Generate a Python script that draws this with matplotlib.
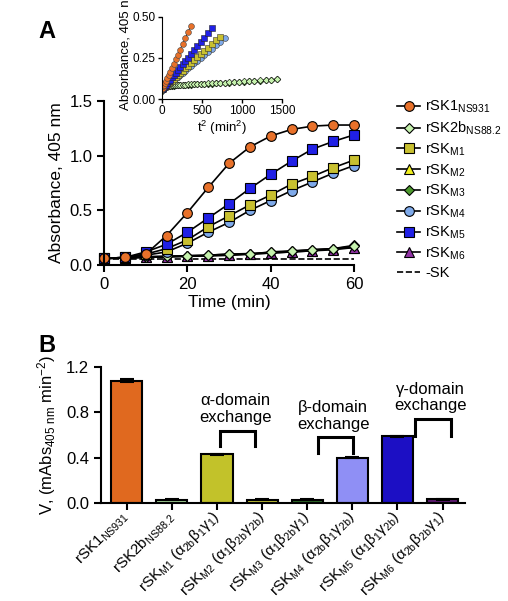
import matplotlib.pyplot as plt
from matplotlib.lines import Line2D

plt.rcParams['font.family'] = ['Liberation Sans', 'DejaVu Sans']
plt.rcParams['mathtext.default'] = 'regular'

# ---- panel A data (time course) ----
time = [0, 5, 10, 15, 20, 25, 30, 35, 40, 45, 50, 55, 60]
rsk1 = [0.06, 0.07, 0.10, 0.27, 0.48, 0.71, 0.93, 1.08, 1.18, 1.24, 1.27, 1.28, 1.28]
rsk2b = [0.06, 0.065, 0.075, 0.08, 0.085, 0.09, 0.10, 0.10, 0.12, 0.13, 0.14, 0.15, 0.17]
m1 = [0.06, 0.07, 0.10, 0.15, 0.23, 0.35, 0.45, 0.55, 0.64, 0.74, 0.81, 0.89, 0.96]
m2 = [0.06, 0.065, 0.07, 0.075, 0.08, 0.085, 0.09, 0.10, 0.11, 0.12, 0.13, 0.15, 0.16]
m3 = [0.06, 0.065, 0.075, 0.08, 0.085, 0.09, 0.10, 0.105, 0.115, 0.125, 0.14, 0.15, 0.18]
m4 = [0.06, 0.07, 0.09, 0.12, 0.20, 0.30, 0.39, 0.50, 0.59, 0.68, 0.76, 0.84, 0.91]
m5 = [0.06, 0.07, 0.12, 0.19, 0.30, 0.43, 0.56, 0.70, 0.83, 0.95, 1.06, 1.13, 1.19]
m6 = [0.06, 0.065, 0.07, 0.075, 0.08, 0.085, 0.09, 0.10, 0.11, 0.12, 0.13, 0.14, 0.16]
no_sk = [0.055, 0.055, 0.055, 0.055, 0.055, 0.055, 0.055, 0.055, 0.055, 0.055, 0.055, 0.055, 0.055]

# ---- inset data (absorbance vs t^2) ----
t2_rsk1 = [0, 1, 4, 9, 16, 25, 36, 49, 64, 81, 100, 121, 144, 169, 196, 225, 256, 289, 324, 361]
a_rsk1 = [0.060, 0.061, 0.064, 0.070, 0.077, 0.087, 0.099, 0.112, 0.128, 0.147, 0.167, 0.189,
          0.214, 0.241, 0.270, 0.301, 0.334, 0.369, 0.407, 0.446]
t2_m5 = [0, 1, 4, 9, 16, 25, 36, 49, 64, 81, 100, 121, 144, 169, 196, 225, 256, 289, 324, 361,
         400, 441, 484, 529, 576, 625]
a_m5 = [0.060, 0.061, 0.062, 0.065, 0.069, 0.075, 0.081, 0.089, 0.098, 0.108, 0.119, 0.132,
        0.145, 0.160, 0.176, 0.193, 0.212, 0.231, 0.252, 0.274, 0.297, 0.321, 0.347, 0.373,
        0.401, 0.430]
t2_m1 = [0, 1, 4, 9, 16, 25, 36, 49, 64, 81, 100, 121, 144, 169, 196, 225, 256, 289, 324, 361,
         400, 441, 484, 529, 576, 625, 676, 729]
a_m1 = [0.060, 0.060, 0.062, 0.064, 0.067, 0.071, 0.076, 0.082, 0.088, 0.096, 0.104, 0.113,
        0.123, 0.134, 0.146, 0.159, 0.172, 0.187, 0.202, 0.218, 0.236, 0.254, 0.272, 0.292,
        0.313, 0.334, 0.357, 0.380]
t2_m4 = [0, 1, 4, 9, 16, 25, 36, 49, 64, 81, 100, 121, 144, 169, 196, 225, 256, 289, 324, 361,
         400, 441, 484, 529, 576, 625, 676, 729, 784]
a_m4 = [0.060, 0.060, 0.062, 0.064, 0.066, 0.070, 0.074, 0.079, 0.085, 0.092, 0.100, 0.108,
        0.117, 0.127, 0.137, 0.149, 0.161, 0.174, 0.188, 0.203, 0.218, 0.234, 0.251, 0.269,
        0.288, 0.307, 0.327, 0.348, 0.370]
t2_slow = [0, 1, 4, 9, 16, 25, 36, 49, 64, 81, 100, 121, 144, 169, 196, 225, 256, 289, 324, 361,
           400, 441, 484, 529, 576, 625, 676, 729, 784, 841, 900, 961, 1024, 1089, 1156, 1225,
           1296, 1369, 1444]
a_m3 = [0.050, 0.055, 0.060, 0.065, 0.068, 0.071, 0.073, 0.075, 0.077, 0.078, 0.080, 0.081,
        0.082, 0.083, 0.084, 0.085, 0.086, 0.087, 0.088, 0.089, 0.090, 0.091, 0.092, 0.093,
        0.094, 0.095, 0.097, 0.098, 0.099, 0.101, 0.102, 0.104, 0.106, 0.108, 0.110, 0.112,
        0.114, 0.117, 0.120]
a_rsk2b = [0.052, 0.057, 0.062, 0.067, 0.070, 0.073, 0.075, 0.077, 0.079, 0.080, 0.082, 0.083,
           0.084, 0.085, 0.086, 0.087, 0.088, 0.089, 0.090, 0.091, 0.092, 0.093, 0.094, 0.095,
           0.096, 0.097, 0.099, 0.100, 0.101, 0.103, 0.104, 0.106, 0.108, 0.110, 0.112, 0.114,
           0.116, 0.119, 0.122]

# ---- panel B data (rates) ----
bar_labels = [r'rSK1$_{NS931}$', r'rSK2b$_{NS88.2}$',
              r'rSK$_{M1}$ (α$_{2b}$β$_{1}$γ$_{1}$)', r'rSK$_{M2}$ (α$_{1}$β$_{2b}$γ$_{2b}$)',
              r'rSK$_{M3}$ (α$_{1}$β$_{2b}$γ$_{1}$)', r'rSK$_{M4}$ (α$_{2b}$β$_{1}$γ$_{2b}$)',
              r'rSK$_{M5}$ (α$_{1}$β$_{1}$γ$_{2b}$)', r'rSK$_{M6}$ (α$_{2b}$β$_{2b}$γ$_{1}$)']
rates = [1.08, 0.03, 0.43, 0.03, 0.03, 0.40, 0.59, 0.035]
rate_err = [0.012, 0.004, 0.005, 0.004, 0.004, 0.006, 0.005, 0.004]
bar_colors = ['#E0691F', '#A6D69A', '#C2C22A', '#C8C83A', '#2F6E2A', '#8F8FF5', '#1C0FC4', '#5E1A70']

c_rsk1, c_rsk2b, c_m1, c_m2 = '#E8712A', '#C6F2AE', '#C8C030', '#F2F020'
c_m3, c_m4, c_m5, c_m6 = '#4E9A2E', '#7FAAEA', '#2020E6', '#9232A6'

fig = plt.figure(figsize=(5.08, 6.01), dpi=100)

# ================= panel A =================
ax = fig.add_axes([0.205, 0.559, 0.492, 0.273])
series = [
    (m2, c_m2, '^'),
    (m6, c_m6, '^'),
    (m3, c_m3, 'D'),
    (rsk2b, c_rsk2b, 'D'),
    (m4, c_m4, 'o'),
    (m1, c_m1, 's'),
    (m5, c_m5, 's'),
    (rsk1, c_rsk1, 'o'),
]
ax.plot(time, no_sk, 'k--', lw=1.2, clip_on=False)
for vals, col, mk in series:
    ms = 5.5 if mk == 'D' else 7
    ax.plot(time, vals, color='black', lw=1.2, marker=mk, markersize=ms,
            markerfacecolor=col, markeredgecolor='black', markeredgewidth=0.8, clip_on=False)

ax.set_xlim(0, 60)
ax.set_ylim(0, 1.5)
ax.set_xticks([0, 20, 40, 60])
ax.set_yticks([0.0, 0.5, 1.0, 1.5])
ax.set_yticklabels(['0.0', '0.5', '1.0', '1.5'])
ax.spines['top'].set_visible(False)
ax.spines['right'].set_visible(False)
ax.spines['left'].set_linewidth(1.5)
ax.spines['bottom'].set_linewidth(1.5)
ax.tick_params(labelsize=12, width=1.5, length=5)
ax.set_xlabel('Time (min)', fontsize=12.5, labelpad=2)
ax.set_ylabel('Absorbance, 405 nm', fontsize=12.5, labelpad=4)

# legend
legend_items = [
    ('o', c_rsk1, r'rSK1$_{NS931}$'),
    ('D', c_rsk2b, r'rSK2b$_{NS88.2}$'),
    ('s', c_m1, r'rSK$_{M1}$'),
    ('^', c_m2, r'rSK$_{M2}$'),
    ('D', c_m3, r'rSK$_{M3}$'),
    ('o', c_m4, r'rSK$_{M4}$'),
    ('s', c_m5, r'rSK$_{M5}$'),
    ('^', c_m6, r'rSK$_{M6}$'),
]
handles = []
labels = []
for mk, col, lab in legend_items:
    ms = 5.5 if mk == 'D' else 7
    handles.append(Line2D([], [], color='black', lw=1.2, marker=mk, markersize=ms,
                          markerfacecolor=col, markeredgecolor='black', markeredgewidth=0.8))
    labels.append(lab)
handles.append(Line2D([], [], color='black', lw=1.2, ls='--'))
labels.append('-SK')
ax.legend(handles, labels, loc='upper left', bbox_to_anchor=(0.77, 0.845),
          bbox_transform=fig.transFigure, frameon=False, fontsize=10.5,
          handlelength=1.6, handletextpad=0.35, labelspacing=0.3, borderaxespad=0)

fig.text(0.075, 0.948, 'A', fontsize=17, fontweight='bold', ha='left', va='center')

# inset
ins = fig.add_axes([0.319, 0.835, 0.236, 0.137])
ins.plot(t2_slow, a_m3, color='black', lw=0.6, marker='D', markersize=3.4,
         markerfacecolor=c_m3, markeredgecolor='black', markeredgewidth=0.4)
ins.plot(t2_slow, a_rsk2b, color='black', lw=0.6, marker='D', markersize=3.4,
         markerfacecolor=c_rsk2b, markeredgecolor='black', markeredgewidth=0.4)
ins.plot(t2_m4, a_m4, color='black', lw=0.6, marker='o', markersize=4.2,
         markerfacecolor=c_m4, markeredgecolor='#333333', markeredgewidth=0.4)
ins.plot(t2_m1, a_m1, color='black', lw=0.6, marker='s', markersize=3.8,
         markerfacecolor=c_m1, markeredgecolor='#333333', markeredgewidth=0.4)
ins.plot(t2_m5, a_m5, color='black', lw=0.6, marker='s', markersize=3.8,
         markerfacecolor=c_m5, markeredgecolor='#222222', markeredgewidth=0.4)
ins.plot(t2_rsk1, a_rsk1, color='black', lw=0.6, marker='o', markersize=4.2,
         markerfacecolor=c_rsk1, markeredgecolor='#444444', markeredgewidth=0.4)
ins.set_xlim(0, 1500)
ins.set_ylim(0, 0.5)
ins.set_xticks([0, 500, 1000, 1500])
ins.set_yticks([0.0, 0.25, 0.5])
ins.set_yticklabels(['0.00', '0.25', '0.50'])
ins.spines['top'].set_visible(False)
ins.spines['right'].set_visible(False)
ins.tick_params(labelsize=8.5, width=1, length=3, pad=1.5)
ins.set_xlabel('t$^2$ (min$^2$)', fontsize=9.5, labelpad=1)
# inset y label: as in the figure, it runs up to the top edge
fig.text(125 / 508, 1 - 110 / 601, 'Absorbance, 405 nm', rotation=90, fontsize=9.5,
         ha='center', va='bottom')

# ================= panel B =================
bx = fig.add_axes([0.199, 0.163, 0.7165, 0.2263])
pos = list(range(len(rates)))
bx.bar(pos, rates, width=0.69, color=bar_colors, edgecolor='black', linewidth=1.5,
       yerr=rate_err, error_kw=dict(ecolor='black', elinewidth=1.2, capsize=5, capthick=1.5))
bx.set_xlim(-0.57, 7.5)
bx.set_ylim(0, 1.2)
bx.set_yticks([0.0, 0.4, 0.8, 1.2])
bx.set_yticklabels(['0.0', '0.4', '0.8', '1.2'])
bx.set_xticks(pos)
bx.set_xticklabels(bar_labels, rotation=45, ha='right', va='center',
                   rotation_mode='anchor', fontsize=11)
bx.spines['top'].set_visible(False)
bx.spines['right'].set_visible(False)
bx.spines['left'].set_linewidth(1.5)
bx.spines['bottom'].set_linewidth(1.5)
bx.tick_params(axis='y', labelsize=12, width=1.5, length=5)
bx.tick_params(axis='x', width=1.5, length=5, pad=3)
bx.set_ylabel('V, (mAbs$_{405\\ nm}$ min$^{-2}$)', fontsize=12, labelpad=6)

# domain-exchange brackets
brackets = [
    (2.07, 2.85, 0.64, 0.50, 'α-domain\nexchange'),
    (4.24, 5.02, 0.58, 0.44, 'β-domain\nexchange'),
    (6.40, 7.18, 0.74, 0.59, 'γ-domain\nexchange'),
]
for x0, x1, top, bot, txt in brackets:
    bx.plot([x0, x0, x1, x1], [bot, top, top, bot], color='black', lw=2.2,
            solid_joinstyle='miter', clip_on=False)
    bx.text((x0 + x1) / 2 - 0.05, top + 0.05, txt, ha='center', va='bottom',
            fontsize=12, linespacing=1.15)

fig.text(0.075, 0.425, 'B', fontsize=17, fontweight='bold', ha='left', va='center')

fig.savefig('out.png', dpi=100)
